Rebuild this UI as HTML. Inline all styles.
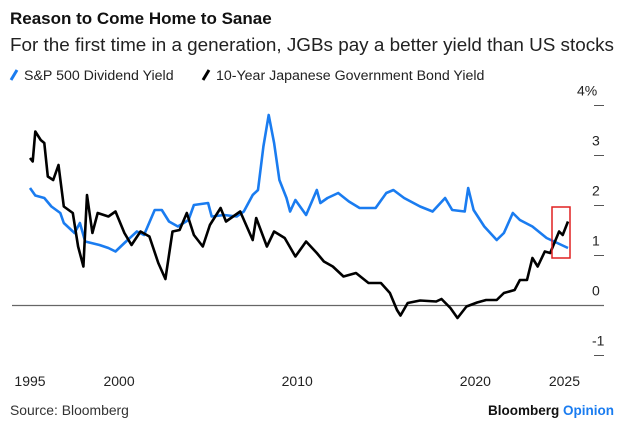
<!DOCTYPE html>
<html><head><meta charset="utf-8"><style>
body{margin:0;background:#fff;font-family:"Liberation Sans",sans-serif}
svg{display:block}
</style></head><body>
<svg id="chart" width="624" height="427">
<text x="10" y="24" font-size="17" font-weight="bold" fill="#111">Reason to Come Home to Sanae</text>
<text x="10" y="51" font-size="18.8" fill="#222" textLength="604" lengthAdjust="spacingAndGlyphs">For the first time in a generation, JGBs pay a better yield than US stocks</text>
<g>
<line x1="11" y1="80" x2="17" y2="70" stroke="#1a7cf0" stroke-width="3"/>
<text x="24" y="80" font-size="14.2" fill="#222">S&amp;P 500 Dividend Yield</text>
<line x1="203" y1="80" x2="209" y2="70" stroke="#000" stroke-width="3"/>
<text x="216" y="80" font-size="14.2" fill="#222">10-Year Japanese Government Bond Yield</text>
</g>
<g id="axes"></g>
<g id="series"></g>
<rect x="552" y="207" width="18" height="51" fill="none" stroke="#e02020" stroke-width="1.5"/>
<text x="10" y="415" font-size="13.9" fill="#333">Source: Bloomberg</text>
<text x="614" y="415" font-size="13.5" font-weight="bold" text-anchor="end" fill="#111">Bloomberg <tspan fill="#1a7cf0">Opinion</tspan></text>
</svg>
<script>
const spYears=[1995.0,1995.3,1995.8,1996.2,1996.7,1996.9,1997.5,1997.8,1998.1,1998.9,1999.4,1999.8,2000.3,2001.0,2001.4,2002.0,2002.4,2002.8,2003.3,2003.9,2004.2,2005.0,2005.2,2005.9,2006.6,2007.0,2007.5,2007.8,2008.1,2008.4,2008.7,2009.0,2009.4,2009.6,2009.9,2010.5,2011.1,2011.3,2011.7,2012.3,2012.9,2013.5,2014.4,2015.0,2015.4,2016.0,2016.9,2017.6,2018.3,2018.7,2019.4,2019.6,2019.9,2020.5,2021.2,2021.6,2022.1,2022.5,2023.2,2024.0,2024.6,2025.2];
const spValues=[2.35,2.2,2.15,1.98,1.85,1.65,1.45,1.65,1.28,1.21,1.15,1.08,1.25,1.48,1.41,1.91,1.91,1.68,1.58,1.71,2.01,2.05,1.78,1.81,1.78,1.88,2.21,2.31,3.18,3.81,3.25,2.51,2.15,1.88,2.11,1.81,2.31,2.05,2.15,2.25,2.08,1.95,1.95,2.25,2.31,2.15,1.98,1.88,2.15,1.91,1.88,2.35,1.91,1.58,1.31,1.45,1.85,1.71,1.58,1.35,1.25,1.15];
const jgbYears=[1995.0,1995.15,1995.3,1995.6,1995.8,1996.0,1996.3,1996.6,1996.9,1997.4,1997.7,1998.0,1998.2,1998.5,1998.8,1999.4,1999.8,2000.3,2000.7,2001.2,2001.7,2002.2,2002.6,2003.0,2003.4,2003.8,2004.2,2004.7,2005.1,2005.7,2006.0,2006.8,2007.5,2007.7,2008.3,2008.7,2009.3,2009.9,2010.5,2011.1,2011.5,2012.0,2012.6,2013.3,2014.0,2014.7,2015.2,2015.6,2015.8,2016.2,2016.9,2017.8,2018.1,2018.6,2019.0,2019.5,2020.1,2020.6,2021.2,2021.6,2022.2,2022.5,2022.9,2023.2,2023.5,2023.9,2024.2,2024.7,2024.9,2025.2];
const jgbValues=[2.95,2.88,3.48,3.31,3.25,2.58,2.51,2.81,1.98,1.85,1.18,0.78,2.21,1.45,1.85,1.78,1.88,1.45,1.21,1.48,1.38,0.85,0.53,1.48,1.51,1.85,1.41,1.18,1.61,1.95,1.68,1.88,1.31,1.75,1.18,1.48,1.35,0.98,1.28,1.05,0.88,0.78,0.58,0.65,0.45,0.45,0.25,-0.09,-0.2,0.05,0.1,0.08,0.13,-0.05,-0.25,-0.02,0.06,0.11,0.11,0.25,0.31,0.51,0.51,0.95,0.78,1.08,1.05,1.48,1.41,1.68];
const yTicks=[4,3,2,1,0,-1];
const yTickLabels=["4%","3","2","1","0","-1"];
const xTicks=[1995,2000,2010,2020,2025];
const NS="http://www.w3.org/2000/svg";
const X=t=>30+(t-1995)*(538/30.2);
const Y=v=>305.5-50*v;
const axes=document.getElementById('axes'),series=document.getElementById('series');
function mk(tag,attrs,parent){const e=document.createElementNS(NS,tag);for(const k in attrs)e.setAttribute(k,attrs[k]);parent.appendChild(e);return e;}
yTicks.forEach((v,i)=>{
  if(v!==0){const l=mk('line',{x1:594,x2:604,y1:Y(v),y2:Y(v),stroke:'#555','stroke-width':1},axes);
  
  }
  const t=mk('text',{x:v===4?577:592,y:Y(v)-10,'font-size':14,fill:'#222','text-anchor':'start'},axes);
  t.textContent=yTickLabels[i];
  
  
});
const z=mk('line',{x1:12,x2:604,y1:Y(0),y2:Y(0),stroke:'#666','stroke-width':1.3},axes);


xTicks.forEach(yr=>{
  const t=mk('text',{x:X(yr),y:386,'font-size':14,fill:'#222','text-anchor':'middle'},axes);
  t.textContent=yr;
  
  
});
function line(xs,vs,color,name){
  const d=xs.map((t,i)=>(i?'L':'M')+X(t).toFixed(1)+' '+Y(vs[i]).toFixed(1)).join(' ');
  const p=mk('path',{d:d,fill:'none',stroke:color,'stroke-width':2.6,'stroke-linejoin':'round'},series);
  
  
}
line(spYears,spValues,'#1a7cf0','sp500-dividend-yield-line');
line(jgbYears,jgbValues,'#000','jgb-10y-yield-line');
</script>
</body></html>
